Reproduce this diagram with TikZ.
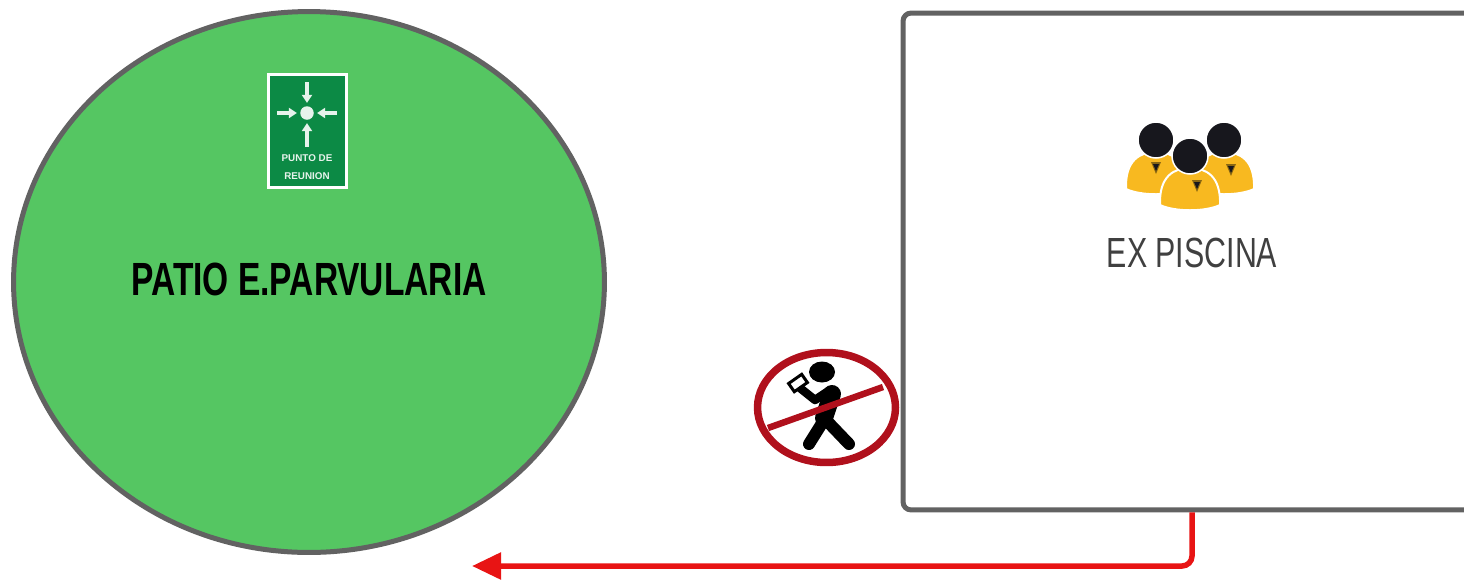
\documentclass[tikz,border=0pt]{standalone}
\usepackage{fontspec}
\setsansfont{Liberation Sans}
\newfontfamily\angosta[FakeStretch=0.72]{Liberation Sans}
\usetikzlibrary{shapes.geometric, arrows.meta, positioning, calc}
\definecolor{verdepatio}{HTML}{55C662}
\definecolor{verdesenal}{HTML}{0C8A45}
\definecolor{grisborde}{HTML}{626262}
\definecolor{rojoflecha}{HTML}{E81414}
\definecolor{rojoveto}{HTML}{B0101C}
\definecolor{amarillo}{HTML}{F8B920}
\definecolor{negrocab}{HTML}{17171D}

\begin{document}
\begin{tikzpicture}[
    x=0.02cm, y=-0.02cm,
    font=\sffamily,
    zona/.style={draw=grisborde, line width=0.1cm},
    patiobox/.style={zona, ellipse, fill=verdepatio, inner sep=0pt, minimum width=11.82cm, minimum height=10.82cm},
    piscinabox/.style={zona, rounded corners=0.16cm, fill=white, minimum width=11.56cm, minimum height=9.94cm},
    senalbox/.style={draw=white, line width=0.06cm, fill=verdesenal, minimum width=1.56cm, minimum height=2.28cm},
    lbl/.style={font=\angosta\bfseries\fontsize{26.5}{26.5}\selectfont, text=black},
    lblfino/.style={font=\angosta\fontsize{24}{24}\selectfont, text=black!75},
    lblsenal/.style={font=\sffamily\bfseries\fontsize{5.6}{5.6}\selectfont, text=white!90!verdesenal, inner sep=0pt},
    fl/.style={-{Triangle[length=0.58cm, width=0.52cm]}, rojoflecha, line width=0.11cm, rounded corners=0.2cm},
    flb/.style={-{Triangle[length=0.16cm, width=0.2cm]}, white!90!verdesenal, line width=0.08cm, shorten >=0.06cm},
    cuerpo/.style={fill=amarillo, draw=white, line width=0.04cm},
    cabeza/.style={fill=negrocab, draw=white, line width=0.03cm},
    veto/.style={draw=rojoveto, line width=0.15cm},
    silueta/.style={draw=black, line cap=round, line join=round}
]
\useasboundingbox (0,0) rectangle (1464,579);
\clip (0,0) rectangle (1464,579);

% ===== ZONAS =====
\node[patiobox] (PATIO) at (309,282) {};
\node[lbl] (PATIOTXT) at (309,279) {PATIO E.PARVULARIA};
\node[piscinabox] (PISCINA) at (1192,261.5) {};
\node[lblfino] (PISCINATXT) at (1192,253) {EX PISCINA};

% ===== SALIDA =====
\coordinate (LLEGADA) at (472,566);
\draw[fl] (PISCINA.south) |- (LLEGADA);

% ===== PUNTO DE REUNION =====
\node[senalbox] (SENAL) at (307.5,131) {};
\node[circle, fill=white!90!verdesenal, inner sep=0pt, minimum size=0.27cm] (CENTRO) at (307,113) {};
\draw[flb] (307,82) -- (CENTRO.north);
\draw[flb] (307,147) -- (CENTRO.south);
\draw[flb] (277,113) -- (CENTRO.west);
\draw[flb] (337,113) -- (CENTRO.east);
\node[lblsenal] (PUNTO) at (307,158) {PUNTO DE};
\node[lblsenal] (REUNION) at (307,176) {REUNION};

% ===== GRUPO EN EX PISCINA =====
\foreach \hx/\hy/\mx/\my in {1156/140/1156/167, 1224/140/1231/169, 1190/156/1197/185} {
  \draw[cuerpo] (\hx-30,\hy+49)
    .. controls (\hx-31,\hy+20) and (\hx-16,\hy+12) .. (\hx,\hy+12)
    .. controls (\hx+16,\hy+12) and (\hx+31,\hy+20) .. (\hx+30,\hy+49)
    .. controls (\hx+15,\hy+56) and (\hx-15,\hy+56) .. cycle;
  \fill[black!45!amarillo] (\mx-5,\my-5) -- (\mx+5,\my-5) -- (\mx,\my+7) -- cycle;
  \fill[negrocab] (\mx-3,\my-3) -- (\mx+3,\my-3) -- (\mx,\my+4) -- cycle;
  \draw[cabeza] (\hx,\hy) circle (0.36cm);
}

% ===== PROHIBIDO CELULAR =====
\draw[silueta, line width=0.36cm] (832,394) -- (824,418);
\draw[silueta, line width=0.24cm] (824,420) -- (809,444);
\draw[silueta, line width=0.24cm] (826,420) -- (849,444);
\draw[silueta, line width=0.17cm] (830,390) -- (815,400) -- (800,388);
\fill[black] (822,372) ellipse (0.26cm and 0.21cm);
\draw[black, fill=white, line width=0.06cm, rotate around={35:(798,383)}] (790,378) rectangle (806,388);
\node[veto, ellipse, inner sep=0pt, minimum width=2.76cm, minimum height=2.2cm] (VETO) at (826.5,407.5) {};
\draw[veto, line width=0.13cm] (768,428) -- (883,387);

\end{tikzpicture}
\end{document}
